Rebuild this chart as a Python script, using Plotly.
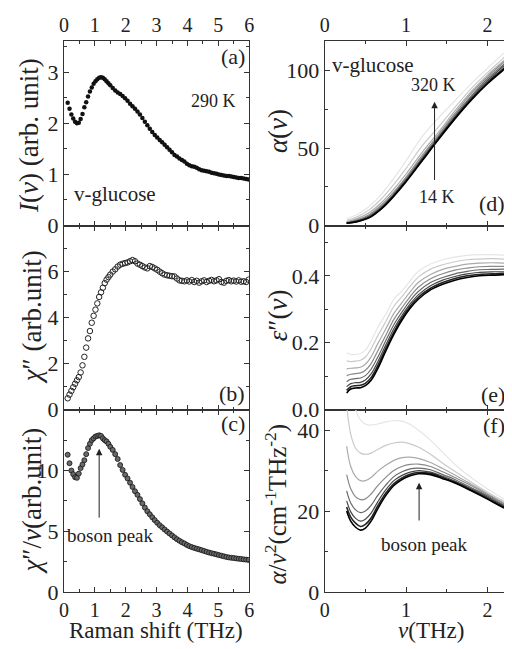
import plotly.graph_objects as go

# ---------------- data: left column (Raman, 290 K) ----------------
raman_shift = [0.12, 0.18, 0.24, 0.30, 0.36, 0.42, 0.48, 0.54, 0.60, 0.66, 0.72, 0.78, 0.84, 0.90,
               0.96, 1.02, 1.08, 1.14, 1.20, 1.26, 1.32, 1.38, 1.44, 1.50, 1.58, 1.66, 1.74, 1.82,
               1.90, 1.98, 2.06, 2.14, 2.22, 2.30, 2.38, 2.46, 2.54, 2.62, 2.70, 2.78, 2.86, 2.94,
               3.02, 3.10, 3.18, 3.26, 3.34, 3.42, 3.50, 3.58, 3.66, 3.74, 3.82, 3.90, 3.98, 4.06,
               4.14, 4.22, 4.30, 4.38, 4.46, 4.54, 4.62, 4.70, 4.78, 4.86, 4.94, 5.02, 5.10, 5.18,
               5.26, 5.34, 5.42, 5.50, 5.58, 5.66, 5.74, 5.82, 5.90, 5.98]

intensity = [2.40, 2.28, 2.17, 2.09, 2.03, 2.00, 2.01, 2.08, 2.18, 2.31, 2.41, 2.52, 2.62, 2.70,
             2.77, 2.82, 2.86, 2.89, 2.90, 2.89, 2.86, 2.82, 2.78, 2.74, 2.69, 2.64, 2.60, 2.57,
             2.53, 2.49, 2.44, 2.38, 2.33, 2.28, 2.23, 2.17, 2.10, 2.03, 1.96, 1.89, 1.83, 1.77,
             1.72, 1.67, 1.63, 1.58, 1.53, 1.48, 1.43, 1.38, 1.35, 1.31, 1.28, 1.25, 1.21, 1.18,
             1.16, 1.15, 1.13, 1.10, 1.08, 1.07, 1.06, 1.05, 1.03, 1.02, 1.01, 1.00, 0.99, 0.98,
             0.97, 0.97, 0.96, 0.95, 0.94, 0.93, 0.93, 0.92, 0.91, 0.90]

chi2 = [0.50, 0.66, 0.82, 0.98, 1.13, 1.28, 1.42, 1.62, 1.93, 2.30, 2.70, 3.10, 3.42, 3.78,
        4.08, 4.35, 4.62, 4.90, 5.10, 5.30, 5.50, 5.65, 5.76, 5.87, 6.00, 6.10, 6.22, 6.30,
        6.34, 6.37, 6.40, 6.45, 6.50, 6.45, 6.35, 6.30, 6.24, 6.18, 6.14, 6.24, 6.20, 6.14,
        6.08, 6.00, 5.93, 5.87, 5.84, 5.82, 5.80, 5.79, 5.70, 5.62, 5.60, 5.58, 5.62, 5.57,
        5.63, 5.55, 5.60, 5.52, 5.58, 5.62, 5.55, 5.60, 5.64, 5.58, 5.62, 5.67, 5.55, 5.52,
        5.60, 5.63, 5.58, 5.61, 5.57, 5.62, 5.56, 5.58, 5.55, 5.65]

chi2_over_nu = [11.3, 10.6, 10.0, 9.7, 9.45, 9.4, 9.75, 10.2, 10.5, 10.85, 11.35, 11.85, 12.2, 12.5,
                12.65, 12.8, 12.85, 12.9, 12.85, 12.65, 12.5, 12.4, 12.2, 11.95, 11.7, 11.35, 10.95, 10.45,
                10.05, 9.65, 9.35, 9.0, 8.65, 8.3, 8.0, 7.65, 7.3, 6.95, 6.65, 6.4, 6.15, 5.92,
                5.7, 5.5, 5.33, 5.15, 4.98, 4.82, 4.66, 4.5, 4.35, 4.22, 4.1, 4.0, 3.88, 3.78,
                3.7, 3.63, 3.57, 3.51, 3.45, 3.38, 3.31, 3.25, 3.2, 3.15, 3.1, 3.04, 2.99, 2.94,
                2.89, 2.85, 2.82, 2.8, 2.77, 2.74, 2.72, 2.69, 2.67, 2.64]

# ---------------- data: right column (THz, 14 K ... 320 K) ----------------
temperatures = [320, 300, 270, 230, 180, 120, 60, 14]
gray_levels = ['#e6e6e6', '#cacaca', '#aaaaaa', '#8a8a8a', '#686868', '#464646', '#242424', '#000000']

nu_alpha = [0.27, 0.40, 0.55, 0.70, 0.85, 1.00, 1.20, 1.40, 1.60, 1.80, 2.00, 2.20, 2.35]
alpha = {
    320: [4.4, 7.1, 12.5, 20.4, 30.6, 41.9, 57.6, 69.6, 80.6, 91.7, 101.6, 111.3, 118.7],
    300: [3.4, 5.6, 10.3, 17.5, 26.6, 36.9, 51.6, 63.7, 76.3, 88.5, 98.8, 108.4, 115.9],
    270: [2.6, 4.5, 8.5, 14.9, 23.5, 33.3, 47.5, 60.4, 74.0, 86.5, 97.2, 106.5, 113.7],
    230: [2.1, 3.7, 7.2, 13.4, 21.7, 31.3, 45.5, 58.8, 72.4, 85.2, 96.0, 105.5, 112.6],
    180: [1.8, 3.2, 6.4, 12.3, 20.6, 30.1, 44.1, 57.6, 71.2, 83.6, 94.8, 104.1, 111.0],
    120: [1.6, 2.9, 5.8, 11.6, 19.9, 29.2, 43.2, 56.8, 70.1, 82.6, 93.6, 103.1, 109.9],
    60:  [1.5, 2.7, 5.4, 11.2, 19.4, 28.7, 42.5, 56.3, 69.4, 81.6, 92.4, 101.6, 108.7],
    14:  [1.5, 2.5, 5.1, 10.9, 19.0, 28.3, 42.0, 55.7, 68.9, 81.0, 91.6, 100.7, 107.6],
}

nu = [0.27, 0.32, 0.38, 0.44, 0.50, 0.57, 0.65, 0.75, 0.85, 0.95, 1.05, 1.15, 1.30, 1.45,
      1.60, 1.75, 1.90, 2.05, 2.20, 2.35]
eps2 = {
    320: [.170, .165, .165, .168, .178, .205, .245, .285, .330, .355, .385, .413, .435, .448, .456, .461, .463, .463, .462, .460],
    300: [.146, .144, .145, .148, .157, .182, .220, .263, .309, .338, .369, .396, .420, .433, .442, .448, .450, .451, .450, .449],
    270: [.122, .124, .125, .127, .136, .158, .196, .241, .288, .320, .352, .380, .404, .419, .428, .435, .438, .439, .438, .438],
    230: [.102, .106, .108, .110, .118, .138, .175, .222, .270, .305, .338, .366, .391, .406, .417, .423, .427, .428, .428, .428],
    180: [.084, .091, .093, .095, .102, .121, .156, .206, .254, .292, .326, .353, .380, .395, .406, .413, .418, .419, .420, .420],
    120: [.069, .078, .081, .082, .089, .107, .142, .193, .242, .282, .316, .343, .370, .387, .398, .406, .410, .412, .412, .413],
    60:  [.058, .069, .072, .073, .079, .096, .131, .183, .232, .274, .309, .336, .363, .380, .392, .400, .404, .406, .407, .408],
    14:  [.050, .062, .065, .066, .072, .088, .122, .175, .225, .268, .303, .330, .358, .375, .387, .395, .400, .402, .403, .404],
}
alpha_over_nu2 = {
    320: [60.0, 50.0, 45.0, 42.5, 41.5, 41.2, 41.5, 42.0, 42.3, 42.2, 41.4, 40.0, 37.5, 34.5, 31.5, 29.0, 26.8, 24.8, 23.0, 21.5],
    300: [46.0, 39.0, 35.5, 34.3, 34.0, 34.3, 35.2, 36.2, 36.8, 37.0, 36.6, 35.8, 34.0, 31.8, 29.8, 27.8, 25.9, 24.1, 22.4, 21.0],
    270: [36.0, 31.0, 28.5, 27.5, 27.5, 28.3, 29.8, 31.3, 32.5, 33.2, 33.3, 33.0, 32.0, 30.5, 28.9, 27.2, 25.5, 23.7, 22.0, 20.6],
    230: [29.0, 25.5, 23.5, 22.8, 23.0, 24.2, 26.2, 28.3, 30.0, 31.0, 31.5, 31.6, 31.0, 29.7, 28.3, 26.8, 25.2, 23.5, 21.8, 20.4],
    180: [25.0, 22.0, 20.3, 19.6, 20.0, 21.4, 23.8, 26.4, 28.5, 29.7, 30.4, 30.6, 30.2, 29.0, 27.8, 26.3, 24.8, 23.2, 21.5, 20.1],
    120: [22.5, 19.8, 18.2, 17.5, 18.0, 19.5, 22.2, 25.2, 27.5, 28.8, 29.6, 30.0, 29.6, 28.6, 27.4, 26.0, 24.5, 22.9, 21.3, 19.9],
    60:  [21.0, 18.5, 17.0, 16.2, 16.7, 18.3, 21.2, 24.4, 26.8, 28.2, 29.1, 29.5, 29.3, 28.3, 27.1, 25.7, 24.2, 22.6, 21.0, 19.7],
    14:  [20.0, 17.5, 16.0, 15.3, 15.8, 17.5, 20.5, 23.8, 26.3, 27.8, 28.7, 29.2, 29.0, 28.0, 26.9, 25.5, 24.0, 22.4, 20.8, 19.5],
}

# ---------------- layout helpers ----------------
# The page shifts the figure 8 px to the right, so the figure is made 8 px
# narrower and horizontal page positions are converted with that offset.
PAGE_W, PAGE_H = 512, 649
OFF_X = 8
W, H = PAGE_W - OFF_X, PAGE_H
FONT = "Liberation Serif"
AX = '#333333'


def fx(p):
    return (p - OFF_X) / W


def fy(p):
    return 1 - p / H


LEFT = [fx(60), fx(249)]
RIGHT = [fx(326), 1.0]
ROWS = [[fy(222), fy(34)], [fy(410), fy(222)], [fy(596), fy(410)]]

fig = go.Figure()

# left column traces
fig.add_trace(go.Scatter(x=raman_shift, y=intensity, mode='markers',
                         marker=dict(size=4.5, color='#111111'), xaxis='x', yaxis='y'))
fig.add_trace(go.Scatter(x=raman_shift, y=chi2, mode='markers',
                         marker=dict(symbol='circle-open', size=5.5, color='#222222', line=dict(width=1)),
                         xaxis='x2', yaxis='y2'))
fig.add_trace(go.Scatter(x=raman_shift, y=chi2_over_nu, mode='markers',
                         marker=dict(size=5, color='#6a6a6a', line=dict(width=0.8, color='#111111')),
                         xaxis='x3', yaxis='y3'))

# right column traces (light -> dark so dark ones lie on top)
for T, col in zip(temperatures, gray_levels):
    w = 1.6 if T <= 60 else 1.2
    fig.add_trace(go.Scatter(x=nu_alpha, y=alpha[T], mode='lines', line=dict(color=col, width=w, shape='spline'),
                             xaxis='x4', yaxis='y4'))
    fig.add_trace(go.Scatter(x=nu, y=eps2[T], mode='lines', line=dict(color=col, width=w, shape='spline'),
                             xaxis='x5', yaxis='y5'))
    fig.add_trace(go.Scatter(x=nu, y=alpha_over_nu2[T], mode='lines', line=dict(color=col, width=w, shape='spline'),
                             xaxis='x6', yaxis='y6'))

tickfont = dict(family=FONT, size=22, color='#222222')
xtickfont = dict(family=FONT, size=20, color='#222222')


def xaxis(domain, anchor, rng, side, labels):
    return dict(domain=domain, anchor=anchor, range=rng, side=side, showticklabels=labels,
                ticks='inside', ticklen=5, tickwidth=1, tickcolor=AX, tick0=0, dtick=1,
                minor=dict(ticks='inside', ticklen=3, tickcolor=AX, dtick=0.5, tick0=0),
                showline=True, linecolor=AX, linewidth=1, mirror='ticks', ticklabelstandoff=0,
                showgrid=False, zeroline=False, tickfont=xtickfont)


def yaxis(domain, anchor, rng, tickvals, ticktext, minor_dtick, mirror):
    return dict(domain=domain, anchor=anchor, range=rng, tickvals=tickvals, ticktext=ticktext,
                ticks='inside', ticklen=5, tickwidth=1, tickcolor=AX,
                minor=dict(ticks='inside', ticklen=3, tickcolor=AX, dtick=minor_dtick, tick0=0),
                showline=True, linecolor=AX, linewidth=1, mirror=mirror,
                showgrid=False, zeroline=False, tickfont=tickfont)


fig.update_layout(
    width=W, height=H, autosize=False, showlegend=False,
    margin=dict(l=0, r=0, t=0, b=0),
    paper_bgcolor='white', plot_bgcolor='white',
    font=dict(family=FONT, color='#222222'),
    xaxis=xaxis(LEFT, 'y', [0, 6], 'top', True),
    xaxis2=xaxis(LEFT, 'y2', [0, 6], 'bottom', False),
    xaxis3=xaxis(LEFT, 'y3', [0, 6], 'bottom', True),
    xaxis4=xaxis(RIGHT, 'y4', [0, 2.24], 'top', True),
    xaxis5=xaxis(RIGHT, 'y5', [0, 2.24], 'bottom', False),
    xaxis6=xaxis(RIGHT, 'y6', [0, 2.24], 'bottom', True),
    yaxis=yaxis(ROWS[0], 'x', [0, 3.6], [0, 1, 2, 3], ['0', '1', '2', '3'], 0.5, 'ticks'),
    yaxis2=yaxis(ROWS[1], 'x2', [0, 8], [0, 2, 4, 6], ['0', '2', '4', '6'], 1, 'ticks'),
    yaxis3=yaxis(ROWS[2], 'x3', [0, 15], [0, 5, 10], ['0', '5', '10'], 2.5, 'ticks'),
    yaxis4=yaxis(ROWS[0], 'x4', [0, 119], [0, 50, 100], ['0', '50', '100'], 25, False),
    yaxis5=yaxis(ROWS[1], 'x5', [0, 0.55], [0, 0.2, 0.4], ['0.0', '0.2', '0.4'], 0.1, False),
    yaxis6=yaxis(ROWS[2], 'x6', [0, 45], [0, 20, 40], ['0', '20', '40'], 10, False),
)

ann = []


def text(xp, yp, s, size, xanchor='center', yanchor='middle', angle=0):
    ann.append(dict(x=fx(xp), y=fy(yp), xref='paper', yref='paper', text=s, showarrow=False,
                    xanchor=xanchor, yanchor=yanchor, textangle=angle, borderpad=0,
                    font=dict(family=FONT, size=size, color='#222222')))


# axis titles
text(25, 130, '<i>I</i>(<i>ν</i>) (arb. unit)', 27, angle=-90)
text(27, 316, '<i>χ</i>″ (arb.unit)', 27, angle=-90)
text(27, 503, '<i>χ</i>″/<i>ν</i>(arb.unit)', 27, angle=-90)
text(279, 126, '<i>α</i>(<i>ν</i>)', 27, angle=-90)
text(278, 314, '<i>ε</i>″(<i>ν</i>)', 27, angle=-90)
text(277, 506, '<i>α</i>/<i>ν</i><sup>2</sup>(cm<sup>-1</sup>THz<sup>-2</sup>)', 25, angle=-90)
text(154, 635, 'Raman shift (THz)', 23)
text(434, 635, '<i>ν</i>(THz)', 23)

# panel labels and notes
text(246, 50, '(a)', 22, xanchor='right')
text(246, 393, '(b)', 22, xanchor='right')
text(246, 424, '(c)', 22, xanchor='right')
text(511, 200, '(d)', 22, xanchor='right')
text(511, 394, '(e)', 22, xanchor='right')
text(511, 426, '(f)', 22, xanchor='right')
text(213, 95, '290 K', 18)
text(112, 190, 'v-glucose', 21)
text(375, 58, 'v-glucose', 21)
text(437, 79, '320 K', 18)
text(441, 193, '14 K', 18)
text(107, 538, 'boson peak', 19)
text(428, 547, 'boson peak', 19)

# arrows (data coordinates)
for xr, yr, x0, y0, y1 in [('x3', 'y3', 1.14, 6.0, 11.8), ('x4', 'y4', 1.35, 28.5, 80.0),
                           ('x6', 'y6', 1.16, 17.3, 27.0)]:
    ann.append(dict(x=x0, y=y1, ax=x0, ay=y0, xref=xr, yref=yr, axref=xr, ayref=yr, text='',
                    showarrow=True, arrowhead=2, arrowsize=1.3, arrowwidth=1, arrowcolor='#222222'))

fig.update_layout(annotations=ann)
fig.write_html("out.html")
